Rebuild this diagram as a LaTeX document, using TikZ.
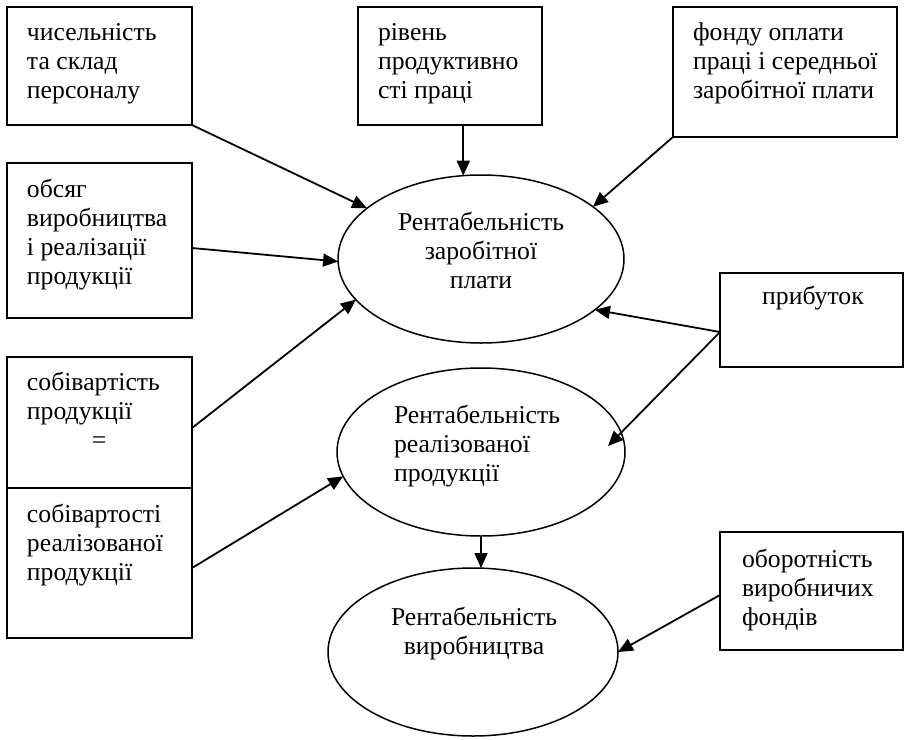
\documentclass[tikz,border=0pt]{standalone}
\usepackage{fontspec}
\setmainfont{Liberation Serif}
\usetikzlibrary{shapes.geometric,arrows.meta}
\tikzset{
  box/.style={draw, line width=1.8pt, rectangle, inner sep=0pt, outer sep=0pt, anchor=north west},
  oval/.style={draw, line width=1.5pt, ellipse, inner sep=0pt, outer sep=0pt, minimum height=168pt},
  txt/.style={inner sep=0pt, outer sep=0pt, font=\fontsize{25.7}{29}\selectfont},
  arr/.style={line width=1.8pt, -{Triangle[length=15pt,width=13pt]}}
}
\begin{document}
\begin{tikzpicture}[x=1pt,y=-1pt]
\useasboundingbox (0,0) rectangle (905,739);
% boxes
\node[box, minimum width=185pt, minimum height=118pt] (b1) at (7,7) {};
\node[box, minimum width=184pt, minimum height=118pt] (b2) at (358,7) {};
\node[box, minimum width=224pt, minimum height=130pt] (b3) at (673,7) {};
\node[box, minimum width=185pt, minimum height=155pt] (b4) at (7,163) {};
\node[box, minimum width=185pt, minimum height=131pt] (b5a) at (7,357) {};
\node[box, minimum width=185pt, minimum height=150pt] (b5b) at (7,488) {};
\node[box, minimum width=183pt, minimum height=94pt] (b6) at (720,273) {};
\node[box, minimum width=183pt, minimum height=118pt] (b7) at (720,532) {};
% ellipses
\node[oval, minimum width=286pt] (e1) at (481,259) {};
\node[oval, minimum width=288pt] (e2) at (481,452) {};
\node[oval, minimum width=290pt] (e3) at (473,652) {};
% texts
\node[txt, anchor=north west, align=left] (t1) at (27,19.7) {\strut чисельність\\та склад\\персоналу};
\node[txt, anchor=north west, align=left] (t2) at (378,19.7) {\strut рівень\\продуктивно\\сті праці};
\node[txt, anchor=north west, align=left] (t3) at (693,19.7) {\strut фонду оплати\\праці і середньої\\заробітної плати};
\node[txt, anchor=north west, align=left] (t4) at (27,176.7) {\strut обсяг\\виробництва\\і реалізації\\продукції};
\node[txt, anchor=north west, align=left] (t5a) at (27,369.7) {\strut собівартість\\продукції\\\hspace*{65pt}=};
\node[txt, anchor=north west, align=left] (t5b) at (27,501.7) {\strut собівартості\\реалізованої\\продукції};
\node[txt, anchor=base] (t6) at (813,304) {прибуток};
\node[txt, anchor=north west, align=left] (t7) at (742,546.7) {\strut оборотність\\виробничих\\фондів};
\node[txt, anchor=north, align=center] (te1) at (481,209.7) {\strut Рентабельність\\заробітної\\плати};
\node[txt, anchor=north west, align=left] (te2) at (394,402.7) {\strut Рентабельність\\реалізованої\\продукції};
\node[txt, anchor=north, align=center] (te3) at (474,604.7) {\strut Рентабельність\\виробництва};
% arrows
\draw[arr] (b1.south east) -- (e1.156);
\draw[arr] (e1.102 |- b2.south) -- (e1.102);
\draw[arr] (b3.south west) -- (e1.25);
\draw[arr] ([yshift=-7.5pt]b4.east) -- (e1.181);
\draw[arr] ([yshift=-5.5pt]b5a.east) -- (e1.198);
\draw[arr] ([yshift=-5pt]b5b.east) -- (e2.190);
\draw[arr] ([yshift=-12pt]b6.west) -- (e1.336);
\draw[arr] ([yshift=-12pt]b6.west) -- ([xshift=-17pt,yshift=6pt]e2.east);
\draw[arr] (e2.south) -- (e2.south |- e3.north);
\draw[arr] ([yshift=-4pt]b7.west) -- (e3.east);
\end{tikzpicture}
\end{document}
